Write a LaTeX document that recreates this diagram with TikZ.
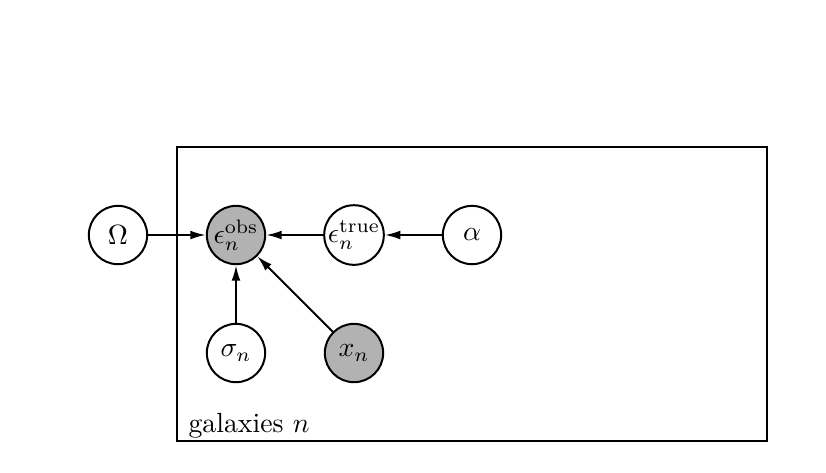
\documentclass[tikz,border=0pt]{standalone}
\usetikzlibrary{arrows.meta}
\begin{document}
\begin{tikzpicture}[x=0.36pt,y=-0.36pt,
  latent/.style={circle,draw,line width=0.72pt,minimum size=21pt,inner sep=0pt,fill=white},
  observed/.style={latent,fill=black!30},
  edge/.style={line width=0.72pt,-{Latex[length=5.6pt,width=3.2pt]}},
  plate/.style={draw,line width=0.72pt}]
\useasboundingbox (0,0) rectangle (826,472);
\draw[plate] (177,147) rectangle (767,441);
\node[anchor=base west,inner sep=0pt] (plab) at (188,432) {galaxies $n$};
\node[latent] (Om) at (118,235) {$\Omega$};
\node[observed] (eo) at (236,235) {$\epsilon_n^{\mathrm{obs}}$};
\node[latent] (et) at (354,235) {$\epsilon_n^{\mathrm{true}}$};
\node[latent] (al) at (472,235) {$\alpha$};
\node[latent] (sg) at (236,353) {$\sigma_n$};
\node[observed] (xn) at (354,353) {$x_n$};
\draw[edge] (Om) -- (eo);
\draw[edge] (et) -- (eo);
\draw[edge] (al) -- (et);
\draw[edge] (sg) -- (eo);
\draw[edge] (xn) -- (eo);
\end{tikzpicture}
\end{document}
